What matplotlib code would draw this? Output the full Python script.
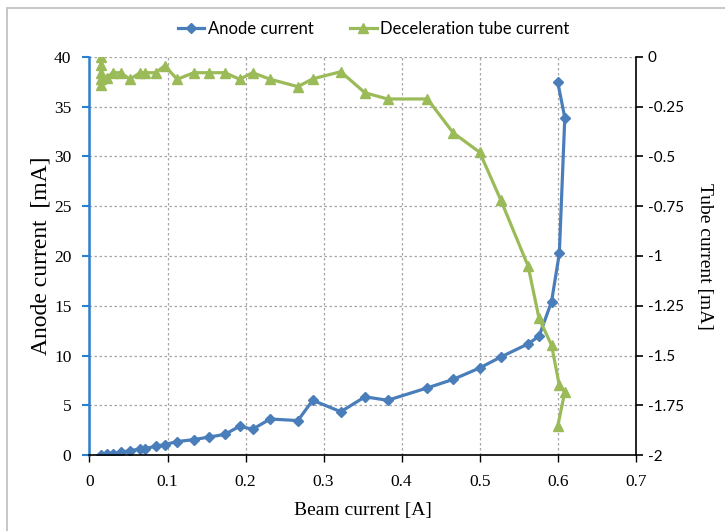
import matplotlib
matplotlib.use("Agg")
import matplotlib.pyplot as plt
from matplotlib.patches import Rectangle

# beam current [A] and anode current [mA]
beam_x = [0.0143, 0.022, 0.0296, 0.0398, 0.052, 0.0648, 0.0712, 0.085, 0.0963,
          0.1125, 0.1337, 0.1537, 0.1737, 0.1923, 0.209, 0.2316, 0.267, 0.286,
          0.322, 0.353, 0.382, 0.433, 0.466, 0.500, 0.527, 0.562, 0.576, 0.592,
          0.602, 0.609, 0.600]
anode = [0.0, 0.1, 0.14, 0.27, 0.44, 0.6, 0.64, 0.88, 1.05,
         1.35, 1.55, 1.81, 2.08, 2.89, 2.59, 3.62, 3.46, 5.5,
         4.35, 5.85, 5.5, 6.75, 7.6, 8.75, 9.85, 11.17, 11.94, 15.4,
         20.26, 33.9, 37.46]

# deceleration tube current [mA]
tube_x = [0.0143, 0.0143, 0.0143, 0.0143] + beam_x
tube = [0.0, -0.04, -0.08, -0.11, -0.14,
        -0.105, -0.079, -0.079, -0.112, -0.079, -0.079, -0.079, -0.044,
        -0.112, -0.079, -0.079, -0.079, -0.112, -0.079, -0.112, -0.149, -0.11,
        -0.074, -0.18, -0.211, -0.211, -0.381, -0.479, -0.719, -1.051, -1.314, -1.448,
        -1.65, -1.683, -1.854]

BLUE = "#4a7ebb"
GREEN = "#9bbb59"
SPINE_BLUE = "#2a7fd0"
SERIF = "Liberation Serif"
SANS = "Lato"

fig = plt.figure(figsize=(7.25, 5.31), dpi=100)
fig.patches.append(Rectangle((0.0097, -0.1), 1.2, 1.085, transform=fig.transFigure,
                             fill=False, edgecolor="#bdbdbd", linewidth=1.2))

ax = fig.add_axes([0.1234, 0.1431, 0.7536, 0.7496])
ax2 = ax.twinx()

l1, = ax.plot(beam_x, anode, color=BLUE, lw=2.3, marker="D", ms=5,
              markeredgecolor=BLUE, label="Anode current")
l2, = ax2.plot(tube_x, tube, color=GREEN, lw=2.3, marker="^", ms=7,
               markeredgecolor=GREEN, label="Deceleration tube current")

ax.set_xlim(0, 0.7)
ax.set_ylim(0, 40)
ax2.set_ylim(-2, 0)
ax.set_xticks([0, 0.1, 0.2, 0.3, 0.4, 0.5, 0.6, 0.7])
ax.set_xticklabels(["0", "0.1", "0.2", "0.3", "0.4", "0.5", "0.6", "0.7"])
ax.set_yticks(range(0, 41, 5))
ax2.set_yticks([0, -0.25, -0.5, -0.75, -1, -1.25, -1.5, -1.75, -2])
ax2.set_yticklabels(["0", "-0.25", "-0.5", "-0.75", "-1", "-1.25", "-1.5", "-1.75", "-2"])

ax.grid(True, color="#a6a6a6", linestyle=(0, (2, 2)), linewidth=0.9)
ax.set_axisbelow(True)

for a in (ax, ax2):
    a.spines["top"].set_visible(False)
ax.spines["right"].set_visible(False)
ax2.spines["left"].set_visible(False)
ax2.spines["bottom"].set_visible(False)
ax.spines["left"].set_color(SPINE_BLUE)
ax.spines["left"].set_linewidth(1.8)
ax.spines["bottom"].set_linewidth(1.2)
ax2.spines["right"].set_linewidth(1.2)

ax.tick_params(axis="y", direction="out", color=SPINE_BLUE, width=1.5, length=5, pad=8)
ax.tick_params(axis="x", direction="out", width=1, length=5, pad=9)
ax2.tick_params(axis="y", direction="out", width=1.2, length=5)

for t in ax.get_xticklabels() + ax.get_yticklabels():
    t.set_fontfamily(SERIF)
    t.set_fontsize(12.5)
for t in ax2.get_yticklabels():
    t.set_fontfamily(SANS)
    t.set_fontsize(11)

ax.set_xlabel("Beam current [A]", family=SERIF, fontsize=14, labelpad=8)
ax.set_ylabel("Anode current  [mA]", family=SERIF, fontsize=17, labelpad=2)
ax2.set_ylabel("Tube current [mA]", family=SERIF, fontsize=14, rotation=270,
               labelpad=21)

fig.legend(handles=[l1, l2], loc="center", bbox_to_anchor=(0.515, 0.945),
           ncol=2, frameon=False, prop={"family": SANS, "size": 12},
           handlelength=1.6, handletextpad=0.2, columnspacing=2.2)

fig.savefig("out.png", dpi=100)
